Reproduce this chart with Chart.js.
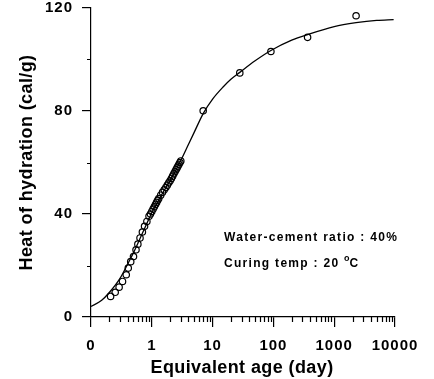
<!DOCTYPE html>
<html>
<head>
<meta charset="utf-8">
<script src="https://cdn.jsdelivr.net/npm/chart.js@4.4.1/dist/chart.umd.min.js"></script>
<style>
  html, body { margin: 0; padding: 0; background: #fff; }
  #wrap { width: 434px; height: 379px; }
</style>
</head>
<body>
<div id="wrap"><canvas id="chart"></canvas></div>
<script>
// measured points (equivalent age in days, heat in cal/g)
const obsAge = [0.21, 0.25, 0.29, 0.33, 0.38, 0.41, 0.45, 0.5, 0.55, 0.59, 0.64, 0.7, 0.76, 0.83, 0.9, 0.95,
  1.0, 1.05, 1.1, 1.15, 1.2, 1.25, 1.3, 1.4, 1.5, 1.6, 1.7, 1.8, 1.9, 2.0, 2.1, 2.2, 2.3, 2.4, 2.5, 2.6, 2.7, 2.8, 2.9, 3.0,
  7, 28, 91, 365, 2290]
const obsHeat = [8.0, 9.6, 11.6, 13.8, 16.4, 19.0, 21.5, 23.5, 26.1, 28.3, 30.7, 33.0, 35.2, 37.1, 39.1, 40.0,
  41.0, 41.9, 42.8, 43.7, 44.5, 45.3, 46.0, 47.3, 48.4, 49.4, 50.3, 51.2, 52.1, 52.9, 53.8, 54.7, 55.6, 56.4, 57.2, 57.9, 58.6, 59.3, 60.0, 60.6,
  80.1, 94.8, 103.1, 108.6, 117.0]

// fitted curve
const fitAge = [0.1, 0.15, 0.2, 0.3, 0.4, 0.5, 0.6, 0.7, 0.8, 1.0, 1.5, 2, 3, 4, 5, 7, 10, 15, 20, 28, 50, 91, 200, 365, 1000, 2290, 5000, 9500]
const fitHeat = [4.1, 6.5, 9.5, 15.0, 20.5, 25.0, 29.0, 32.5, 35.5, 40.5, 48.0, 53.0, 60.8, 67.0, 71.8, 79.0, 84.6, 89.4, 92.3, 95.0, 99.5, 103.5, 107.5, 109.7, 112.8, 114.3, 115.2, 115.5]

const xTicks = [0.1, 1, 10, 100, 1000, 10000]
const xMinor = [0.2, 0.3, 0.4, 0.5, 0.6, 0.7, 0.8, 0.9, 2, 3, 4, 5, 6, 7, 8, 9,
  20, 30, 40, 50, 60, 70, 80, 90, 200, 300, 400, 500, 600, 700, 800, 900,
  2000, 3000, 4000, 5000, 6000, 7000, 8000, 9000]
const yTicks = [0, 40, 80, 120]
const yMinor = [20, 60, 100]

const FONT = '"Liberation Sans", Arial, sans-serif'
Chart.defaults.font.family = FONT
Chart.defaults.color = '#000'

const decorations = {
  id: 'decorations',
  beforeDraw(chart) {
    chart.ctx.letterSpacing = '1px'
  },
  afterDraw(chart) {
    const { ctx, scales: { x, y } } = chart
    ctx.save()
    ctx.letterSpacing = '0px'
    ctx.strokeStyle = '#000'
    ctx.lineWidth = 1.2
    ctx.beginPath()
    xMinor.forEach(v => {
      const px = Math.round(x.getPixelForValue(v)) + 0.5
      ctx.moveTo(px, y.bottom)
      ctx.lineTo(px, y.bottom + 5)
    })
    yMinor.forEach(v => {
      const py = Math.round(y.getPixelForValue(v)) + 0.5
      ctx.moveTo(x.left, py)
      ctx.lineTo(x.left - 4, py)
    })
    ctx.stroke()

    ctx.fillStyle = '#000'
    // axis titles
    ctx.font = 'bold 18px ' + FONT
    ctx.letterSpacing = '0.4px'
    ctx.textAlign = 'center'
    ctx.textBaseline = 'middle'
    ctx.save()
    ctx.translate(27, (y.top + y.bottom) / 2)
    ctx.rotate(-Math.PI / 2)
    ctx.fillText('Heat of hydration (cal/g)', 0, 0)
    ctx.restore()
    ctx.textBaseline = 'alphabetic'
    ctx.fillText('Equivalent age (day)', 242, 373)

    // annotation
    ctx.textAlign = 'left'
    ctx.font = 'bold 12px ' + FONT
    ctx.letterSpacing = '1.3px'
    ctx.fillText('Water-cement ratio : 40%', 224, 241)
    const lead = 'Curing temp : 20 '
    ctx.fillText(lead, 224, 267)
    let cx = 224 + ctx.measureText(lead).width
    ctx.font = 'bold 9px ' + FONT
    ctx.letterSpacing = '0px'
    ctx.fillText('o', cx, 261)
    cx += ctx.measureText('o').width
    ctx.font = 'bold 12px ' + FONT
    ctx.fillText('C', cx, 267)
    ctx.restore()
  }
}

new Chart(document.getElementById('chart'), {
  type: 'scatter',
  data: {
    datasets: [
      {
        label: 'fit',
        data: fitAge.map((a, i) => ({ x: a, y: fitHeat[i] })),
        showLine: true,
        borderColor: '#000',
        borderWidth: 1.3,
        pointRadius: 0,
        cubicInterpolationMode: 'monotone'
      },
      {
        label: 'measured',
        data: obsAge.map((a, i) => ({ x: a, y: obsHeat[i] })),
        borderColor: '#000',
        backgroundColor: 'rgba(0,0,0,0)',
        borderWidth: 1.2,
        pointRadius: 3.2
      }
    ]
  },
  options: {
    responsive: true,
    maintainAspectRatio: false,
    animation: false,
    layout: { padding: { left: 0, right: 39, top: 8, bottom: 0 } },
    plugins: { legend: { display: false }, tooltip: { enabled: false } },
    scales: {
      x: {
        type: 'logarithmic',
        min: 0.1,
        max: 10000,
        afterBuildTicks: s => { s.ticks = xTicks.map(v => ({ value: v, major: true })) },
        afterFit: s => { s.height = 62; s.paddingLeft = 0; s.paddingRight = 0 },
        ticks: {
          font: { size: 15, weight: 'bold' },
          padding: 10,
          maxRotation: 0,
          autoSkip: false,
          callback: v => (v === 0.1 ? '0' : String(v))
        },
        grid: { drawOnChartArea: false, tickLength: 10, color: '#000', lineWidth: 1.2 },
        border: { color: '#000', width: 1.2 }
      },
      y: {
        min: 0,
        max: 120,
        afterBuildTicks: s => { s.ticks = yTicks.map(v => ({ value: v })) },
        afterFit: s => { s.width = 91; s.paddingTop = 0; s.paddingBottom = 0 },
        ticks: { font: { size: 15, weight: 'bold' }, padding: 9 },
        grid: { drawOnChartArea: false, tickLength: 9, color: '#000', lineWidth: 1.2 },
        border: { color: '#000', width: 1.2 }
      }
    }
  },
  plugins: [decorations]
})
</script>
</body>
</html>
